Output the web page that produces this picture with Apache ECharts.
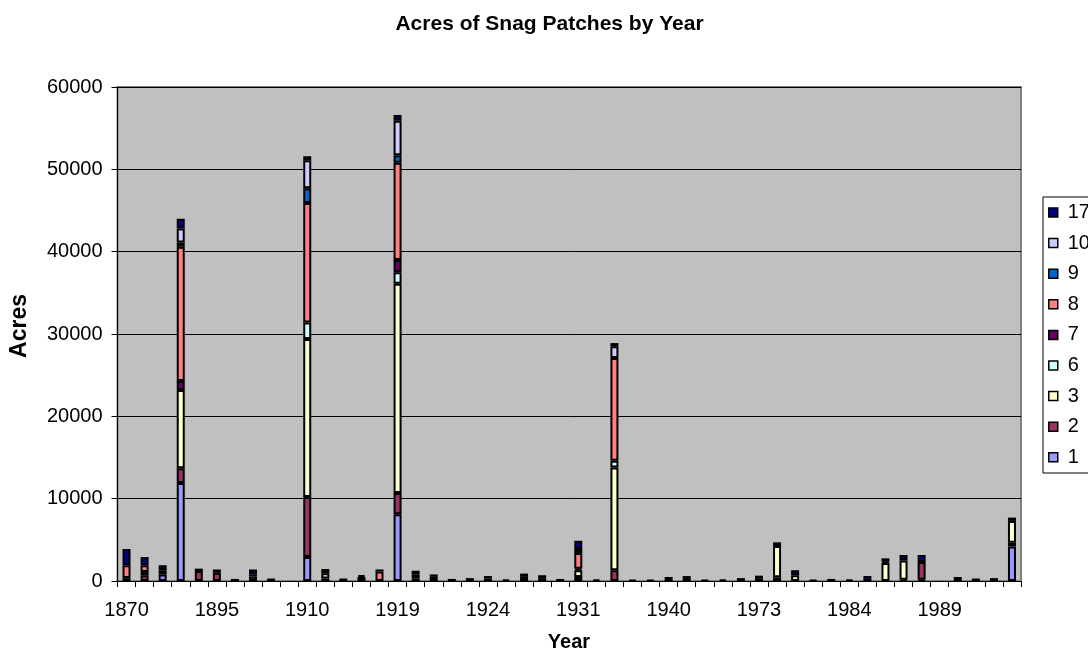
<!DOCTYPE html>
<html>
<head>
<meta charset="utf-8">
<script src="https://cdn.jsdelivr.net/npm/echarts@6/dist/echarts.min.js"></script>
<style>
html,body{margin:0;padding:0;background:#fff;}
#chart{width:1088px;height:650px;}
</style>
</head>
<body>
<div id="chart"></div>
<script>
// Categories (years); only every 5th is labelled in the reference
var years = ['1870','1875','1880','1889','1890','1895','1900','1905','1906','1908',
             '1910','1911','1914','1917','1918','1919','1920','1921','1922','1923',
             '1924','1925','1926','1928','1929','1931','1932','1934','1936','1938',
             '1940','1945','1953','1960','1967','1973','1975','1977','1979','1982',
             '1984','1985','1986','1987','1988','1989','1990','1991','1992','1994'];

var seriesNames = ['1','2','3','6','7','8','9','10','17'];
var seriesColors = ['#9999FF','#993366','#FFFFCC','#CCFFFF','#660066','#FF8080','#0066CC','#CCCCFF','#000080'];

var s1 = [0,0,800,11900,0, 0,0,0,0,0,
          2900,0,0,0,0, 8100,0,0,0,0,
          0,0,0,0,0, 0,0,0,0,0,
          0,0,0,0,0, 0,0,0,0,0,
          0,0,0,0,150, 0,0,0,0,4200];
var s2 = [0,700,0,1800,1200, 1000,0,550,0,0,
          7300,300,0,0,0, 2600,300,500,0,0,
          0,0,0,0,0, 500,0,1300,0,0,
          0,0,0,0,0, 0,450,0,0,0,
          0,0,0,150,2150, 0,0,0,0,450];
var s3 = [350,0,0,9500,0, 0,0,250,0,0,
          19200,650,0,500,0, 25400,450,0,0,0,
          300,0,0,350,0, 800,0,12500,0,0,
          0,0,0,0,0, 350,3800,700,0,0,
          0,0,2200,2350,0, 0,0,0,0,2650];
var s6 = [0,0,0,0,0, 0,0,0,0,0,
          2000,0,0,0,0, 1400,0,0,0,0,
          0,0,0,0,0, 0,0,800,0,0,
          0,0,0,0,0, 0,0,0,0,0,
          0,0,0,0,0, 0,0,0,0,0];
var s7 = [0,400,500,1100,0, 0,0,0,0,0,
          0,0,0,0,0, 1500,0,0,0,0,
          0,0,0,0,0, 200,0,0,0,0,
          0,0,0,0,0, 0,0,0,0,0,
          0,0,0,0,0, 0,0,0,0,0];
var s8 = [1550,800,0,16300,0, 0,0,0,0,0,
          14500,0,0,0,1150, 11800,0,0,0,0,
          0,0,500,0,0, 1900,0,12500,0,0,
          0,250,0,0,0, 0,0,0,0,0,
          0,0,150,0,0, 0,0,0,0,0];
var s9 = [0,0,0,500,0, 0,0,0,0,0,
          1800,0,0,0,0, 900,0,0,0,0,
          0,0,0,0,0, 500,0,0,0,0,
          0,0,0,0,0, 0,0,0,0,0,
          0,0,0,0,0, 0,0,0,0,400];
var s10 = [0,0,0,1700,0, 0,0,0,0,0,
           3400,0,0,0,0, 4200,0,0,0,0,
           0,0,0,0,0, 0,0,1400,0,0,
           0,0,0,0,0, 0,0,0,0,0,
           0,0,0,0,0, 0,0,0,0,0];
var s17 = [2000,1000,600,1200,300, 400,250,600,300,0,
           500,500,300,200,250, 700,500,300,250,350,
           300,200,400,350,250, 1000,200,400,150,100,
           500,350,100,200,350, 300,450,600,100,250,
           200,600,400,650,850, 0,500,300,350,0];

var yTicks = [0,10000,20000,30000,40000,50000,60000];

var seriesValues = [s1,s2,s3,s6,s7,s8,s9,s10,s17];
var FONT = "'Liberation Sans', Arial, sans-serif";

var chart = echarts.init(document.getElementById('chart'), null, {renderer:'canvas'});

var series = seriesNames.map(function(name, i){
  return {
    name: name,
    type: 'bar',
    stack: 'total',
    barWidth: 8,
    data: seriesValues[i].map(function(v){ return v === 0 ? '-' : v; }),
    itemStyle: { color: seriesColors[i], borderColor: '#000', borderWidth: 2 },
    emphasis: { disabled: true },
    animation: false
  };
});

chart.setOption({
  animation: false,
  backgroundColor: '#ffffff',
  textStyle: { fontFamily: FONT },
  title: {
    text: 'Acres of Snag Patches by Year',
    left: 544.5, top: 9, textAlign: 'center',
    textStyle: { fontFamily: FONT, fontWeight: 'bold', fontSize: 21, color: '#000' }
  },
  grid: {
    left: 117.5, right: 67, top: 87, bottom: 69,
    show: true, backgroundColor: '#C0C0C0', borderColor: '#808080', borderWidth: 2
  },
  legend: {
    orient: 'vertical',
    left: 1043, top: 197,
    icon: 'rect',
    itemWidth: 9, itemHeight: 9, itemGap: 10.6,
    padding: [5.5, 40, 5.7, 5],
    backgroundColor: '#ffffff', borderColor: '#000', borderWidth: 1,
    data: ['17','10','9','8','7','6','3','2','1'],
    itemStyle: { borderColor: '#000', borderWidth: 1.5 },
    textStyle: { fontFamily: FONT, fontSize: 20, lineHeight: 20, color: '#000', padding: [0,0,0,5] }
  },
  xAxis: {
    type: 'category',
    data: years,
    boundaryGap: true,
    axisLine: { show: true, lineStyle: { color: '#000', width: 1 } },
    axisTick: { show: true, interval: 0, length: 6, lineStyle: { color: '#000' } },
    axisLabel: { interval: 4, margin: 19, fontFamily: FONT, fontSize: 20, color: '#000' },
    splitLine: { show: false }
  },
  yAxis: {
    type: 'value',
    min: yTicks[0], max: yTicks[yTicks.length-1], interval: 10000,
    axisLine: { show: true, lineStyle: { color: '#000', width: 1 } },
    axisTick: { show: true, length: 6, lineStyle: { color: '#000' } },
    axisLabel: { margin: 15, fontFamily: FONT, fontSize: 20, color: '#000',
                 formatter: function(v){ return String(v); } },
    splitLine: { show: true, lineStyle: { color: '#000', width: 1 } }
  },
  graphic: [
    { type: 'text', x: 20, y: 326, rotation: Math.PI/2,
      style: { text: 'Acres', font: 'bold 23px ' + FONT, fill: '#000', textAlign: 'center', textVerticalAlign: 'middle' } },
    { type: 'text', x: 569, y: 642,
      style: { text: 'Year', font: 'bold 20px ' + FONT, fill: '#000', textAlign: 'center', textVerticalAlign: 'middle' } }
  ],
  series: series
});
</script>
</body>
</html>
